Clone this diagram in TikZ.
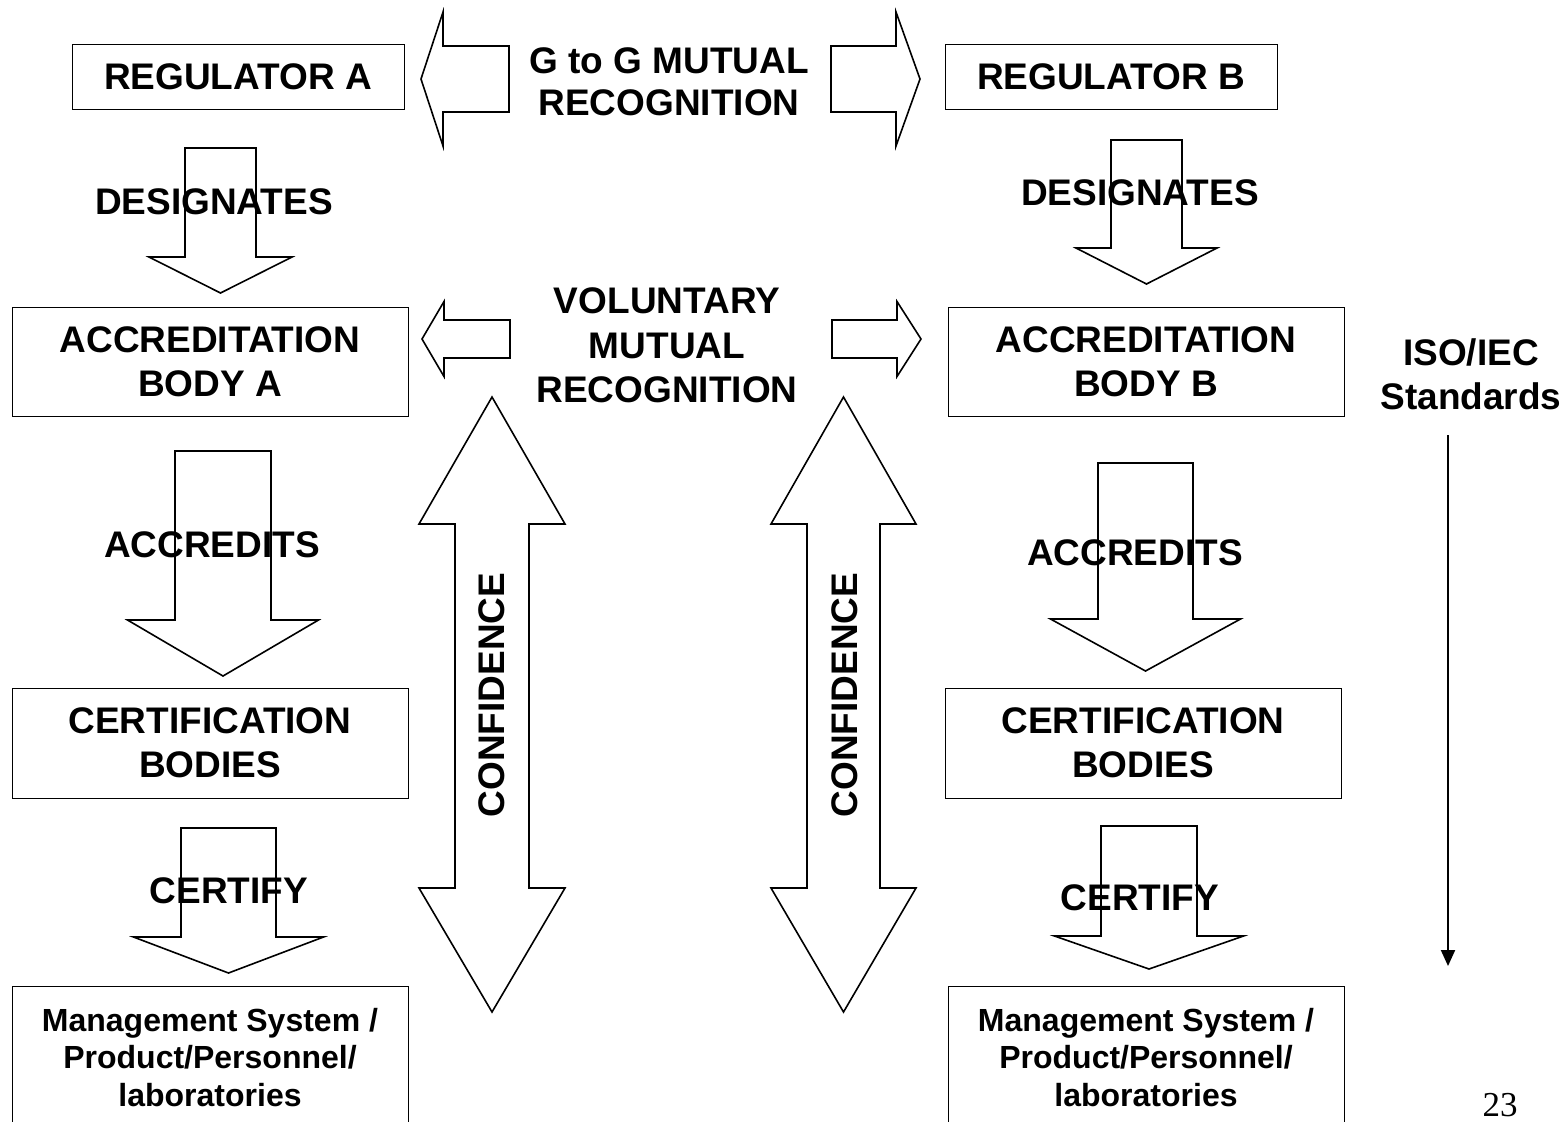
\documentclass[tikz,border=0pt]{standalone}
\usepackage{fontspec}
\setmainfont{Liberation Sans}
\newfontfamily\pagefont{Liberation Serif}
\usepackage{tikz}
\usetikzlibrary{arrows.meta}

% block arrows, drawn as outlines
\newcommand{\blockdown}[6]{% centre x, top, half shaft, head base, half head, tip
  \draw[blockarrow] (#1-#3,#2) -- (#1+#3,#2) -- (#1+#3,#4) -- (#1+#5,#4) -- (#1,#6)
    -- (#1-#5,#4) -- (#1-#3,#4) -- cycle;}
\newcommand{\blockside}[6]{% tip x, centre y, head back, half head, shaft end, half shaft
  \draw[blockarrow] (#1,#2) -- (#3,#2-#4) -- (#3,#2-#6) -- (#5,#2-#6) -- (#5,#2+#6)
    -- (#3,#2+#6) -- (#3,#2+#4) -- cycle;}
\newcommand{\blockboth}[7]{% centre x, top tip, top base, half head, half shaft, bottom base, bottom tip
  \draw[blockarrow] (#1,#2) -- (#1+#4,#3) -- (#1+#5,#3) -- (#1+#5,#6) -- (#1+#4,#6) -- (#1,#7)
    -- (#1-#4,#6) -- (#1-#5,#6) -- (#1-#5,#3) -- (#1-#4,#3) -- cycle;}

\begin{document}
\begin{tikzpicture}[x=0.5pt, y=-0.5pt,
    box/.style={rectangle, draw, line width=0.5pt, align=center, inner sep=0pt,
      font=\bfseries\fontsize{18.5}{22}\selectfont},
    word/.style={align=center, inner sep=0pt, font=\bfseries\fontsize{18.5}{22}\selectfont},
    itembox/.style={rectangle, draw, line width=0.5pt, align=center, inner sep=0pt,
      minimum width=198pt, minimum height=71pt, anchor=north,
      font=\bfseries\fontsize{16}{18.75}\selectfont},
    blockarrow/.style={draw, line width=0.8pt, line join=miter},
    arrow/.style={-{Triangle[length=8pt,width=7pt]}, line width=1pt}]

    \useasboundingbox (0,0) rectangle (1567,1121);

    % Arrows
    \blockside{421}{79}{443}{67}{509}{33}
    \blockside{920}{79}{896}{67}{831}{33}
    \blockside{422}{339}{444}{37.5}{510}{19}
    \blockside{921}{339}{897}{37.5}{832}{19}
    \blockboth{492}{397}{524}{73}{37}{888}{1012}
    \blockboth{843.5}{397}{524}{72.5}{36.5}{888}{1012}
    \blockdown{220.5}{148}{35.5}{257}{71.5}{293}
    \blockdown{1146.5}{140}{35.5}{248}{70.5}{284}
    \blockdown{223}{451}{48}{620}{95.5}{676}
    \blockdown{1145.5}{463}{47.5}{619}{95}{671}
    \blockdown{228.5}{828}{47.5}{937}{95}{973}
    \blockdown{1149}{826}{48}{936}{94.5}{969}

    \node [box, minimum width=166pt, minimum height=32.5pt] (rega) at (238,76.5) {REGULATOR A};
    \node [box, minimum width=166pt, minimum height=32.5pt] (regb) at (1111,76.5) {REGULATOR B};
    \node [box, minimum width=198pt, minimum height=54.5pt] (acca) at (210,361.5) {ACCREDITATION\\BODY A};
    \node [box, minimum width=198pt, minimum height=54.5pt] (accb) at (1146,361.5) {ACCREDITATION\\BODY B};
    \node [box, minimum width=198pt, minimum height=55pt] (cera) at (210,743) {CERTIFICATION\\BODIES};
    \node [box, minimum width=198pt, minimum height=55pt] (cerb) at (1143,743) {CERTIFICATION\\BODIES};
    \node [itembox] (mgta) at (210,986) {Management System /\\Product/Personnel/\\laboratories};
    \node [itembox] (mgtb) at (1146,986) {Management System /\\Product/Personnel/\\laboratories};

    \node [word, font=\bfseries\fontsize{18.5}{21}\selectfont] (gtog) at (669,82) {G to G MUTUAL\\RECOGNITION};
    \node [word, font=\bfseries\fontsize{18.5}{22.25}\selectfont] (vol) at (667,345.5) {VOLUNTARY\\MUTUAL\\RECOGNITION};
    \node [word] (desa) at (214,202) {DESIGNATES};
    \node [word] (desb) at (1140,193) {DESIGNATES};
    \node [word] (acra) at (212,545) {ACCREDITS};
    \node [word] (acrb) at (1135,553) {ACCREDITS};
    \node [word] (cfya) at (229,891) {CERTIFY};
    \node [word] (cfyb) at (1140,898) {CERTIFY};
    \node [word, rotate=90] (confa) at (492,695) {CONFIDENCE};
    \node [word, rotate=90] (confb) at (845,695) {CONFIDENCE};
    \node [word] (iso) at (1471,374) {ISO/IEC\\Standards};
    \node [inner sep=0pt, font=\pagefont\fontsize{17.5}{20}\selectfont] (page) at (1500,1105) {23};

    \coordinate (isotop) at (1448,435);
    \coordinate (isobot) at (1448,966);
    \draw [arrow] (isotop) -- (isobot);
\end{tikzpicture}
\end{document}
